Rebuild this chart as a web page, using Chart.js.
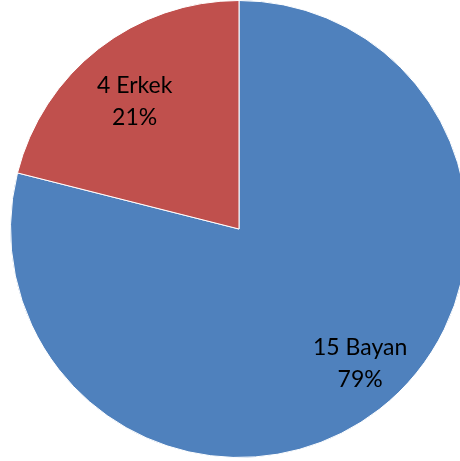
<!DOCTYPE html>
<html>
<head>
<meta charset="utf-8">
<script src="https://cdn.jsdelivr.net/npm/chart.js@4/dist/chart.umd.min.js"></script>
<style>
  html, body { margin: 0; padding: 0; background: #fff; overflow: hidden; }
  #wrap { width: 460px; height: 461px; overflow: hidden; }
</style>
</head>
<body>
<div id="wrap"><canvas id="pie" width="478" height="461"></canvas></div>
<script>
const categories = ['Bayan', 'Erkek'];
const counts = [15, 4];
const sliceColors = ['#4F81BD', '#C0504D'];

// label drawn on each slice: "count name" and the percentage below
const sliceLabels = {
  id: 'sliceLabels',
  afterDatasetsDraw(chart, args, opts) {
    const ctx = chart.ctx;
    const meta = chart.getDatasetMeta(0);
    const total = counts.reduce((a, b) => a + b, 0);
    ctx.save();
    ctx.font = opts.size + 'px Lato';
    ctx.fillStyle = '#000';
    ctx.textAlign = 'center';
    ctx.textBaseline = 'alphabetic';
    const capHalf = opts.size * 0.36;
    meta.data.forEach((arc, i) => {
      const p = arc.getProps(['x', 'y', 'startAngle', 'endAngle', 'outerRadius']);
      const ang = p.startAngle + (p.endAngle - p.startAngle) * opts.along;
      const r = p.outerRadius * opts.dist[i];
      const x = p.x + Math.cos(ang) * r;
      const y = p.y + Math.sin(ang) * r;
      const pct = Math.round(counts[i] / total * 100) + '%';
      ctx.fillText(counts[i] + ' ' + categories[i], x, y - opts.lineGap / 2 + capHalf);
      ctx.fillText(pct, x, y + opts.lineGap / 2 + capHalf);
    });
    ctx.restore();
  }
};

new Chart(document.getElementById('pie').getContext('2d'), {
  type: 'pie',
  data: {
    labels: categories,
    datasets: [{
      data: counts,
      backgroundColor: sliceColors,
      borderColor: '#ffffff',
      borderWidth: 1
    }]
  },
  options: {
    responsive: false,
    animation: false,
    layout: { padding: { top: 0, bottom: 3, left: 0, right: 0 } },
    plugins: {
      legend: { display: false },
      tooltip: { enabled: false },
      sliceLabels: { size: 23, along: 0.485, dist: [0.79, 0.725], lineGap: 32 }
    }
  },
  plugins: [sliceLabels]
});
</script>
</body>
</html>
